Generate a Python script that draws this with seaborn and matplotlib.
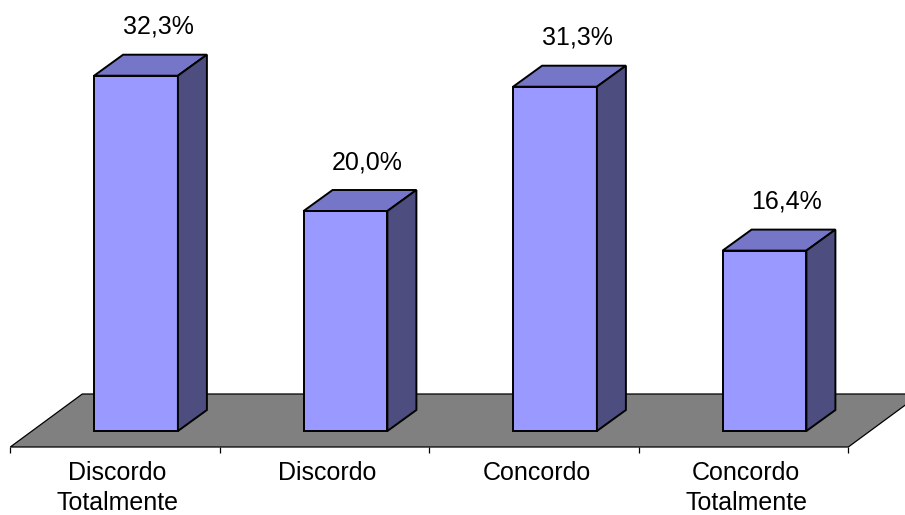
import matplotlib
matplotlib.use("Agg")
import matplotlib.pyplot as plt
from matplotlib.patches import Polygon
import seaborn as sns
import pandas as pd

categories = ["Discordo\nTotalmente", "Discordo", "Concordo", "Concordo\nTotalmente"]
values = [32.3, 20.0, 31.3, 16.4]
value_labels = ["32,3%", "20,0%", "31,3%", "16,4%"]

sns.set_theme(style="white")
plt.rcParams["font.family"] = ["Liberation Sans", "DejaVu Sans"]

FRONT = "#9999FF"
TOP = "#7676C8"
SIDE = "#4D4D80"
FLOOR = "#808080"

fig = plt.figure(figsize=(9.05, 5.15), dpi=100)
ax = fig.add_axes([0, 0, 1, 1])

df = pd.DataFrame({"cat": categories, "val": values})
W = 0.40
sns.barplot(data=df, x="cat", y="val", color=FRONT, saturation=1, width=W,
            edgecolor="black", linewidth=1.4, ax=ax, zorder=3)

# pixel mapping: 209.5 px per category, 11 px per percent
PX_C = 209.5
PX_V = 11.0
ax.set_xlim(-136 / PX_C, (905 - 136) / PX_C)
ax.set_ylim(-84 / PX_V, (515 - 84) / PX_V)
ax.axis("off")

# depth offsets for bars
dx = 29 / PX_C
dy = 21 / PX_V

# floor
f_front = -16 / PX_V
fdx = 72 / PX_C
fdy = 53 / PX_V
x0, x1 = -0.6, 3.4
floor = Polygon([(x0, f_front), (x1, f_front), (x1 + fdx, f_front + fdy), (x0 + fdx, f_front + fdy)],
                closed=True, facecolor=FLOOR, edgecolor="black", linewidth=0.9, zorder=1)
ax.add_patch(floor)

# ticks under the floor front edge
for k in range(len(categories) + 1):
    xt = x0 + k * (x1 - x0) / len(categories)
    ax.plot([xt, xt], [f_front, f_front - 6 / PX_V], color="black", lw=0.9, zorder=2,
            solid_capstyle="butt")

for i, (v, lab) in enumerate(zip(values, value_labels)):
    l, r = i - W / 2, i + W / 2
    top = Polygon([(l, v), (r, v), (r + dx, v + dy), (l + dx, v + dy)], closed=True,
                  facecolor=TOP, edgecolor="black", linewidth=1.4, zorder=4)
    side = Polygon([(r, 0), (r + dx, dy), (r + dx, v + dy), (r, v)], closed=True,
                   facecolor=SIDE, edgecolor="black", linewidth=1.4, zorder=4)
    ax.add_patch(top)
    ax.add_patch(side)
    ax.text(i + 0.105, v + 4.45, lab, ha="center", va="center", fontsize=18, color="black")
    ax.text(i - 0.088, f_front - 14 / PX_V, categories[i], ha="center", va="top",
            fontsize=18, color="black", linespacing=1.32)

fig.savefig("out.png", dpi=100)
